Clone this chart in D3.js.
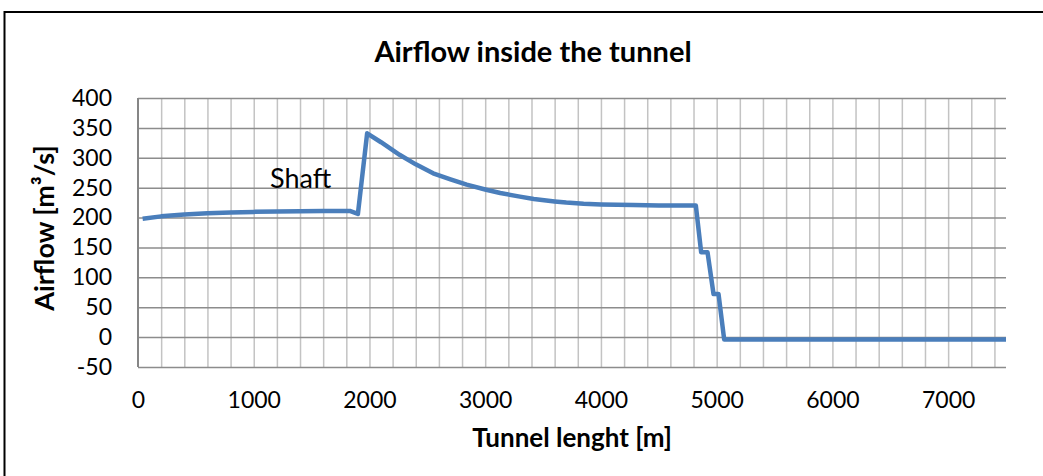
<!DOCTYPE html>
<head>
    <meta charset="utf-8">
    <script src="https://d3js.org/d3.v7.min.js"></script>
    <style>
      body { margin: 0; background: #fff; }
      text { font-family: Lato, "Open Sans", sans-serif; fill: #000; }
      .charttitle { font-size: 29px; font-weight: bold; }
      .axistitle { font-size: 27px; font-weight: bold; }
      .ticklabel text { font-size: 23px; }
      .note { font-size: 27px; }
    </style>
<body>
    <script>
        // tunnel position [m] and airflow [m3/s]
        var distance = [40, 200, 400, 600, 800, 1000, 1200, 1400, 1600, 1800, 1830, 1900, 1980, 2100, 2260, 2400, 2550, 2700, 2840, 3000, 3130, 3300, 3420, 3600, 3700, 3850, 4000, 4280, 4500, 4820, 4866, 4921, 4973, 5016, 5065, 7500]
        var airflow = [198, 202, 205, 207, 208.5, 209.5, 210, 210.5, 211, 211, 211, 206, 341, 326, 305, 289, 274, 264, 255, 247, 241, 235, 231, 227, 225, 223, 222, 221, 220, 220, 142, 142, 72, 72, -4, -4]
        var xTicks = [0, 1000, 2000, 3000, 4000, 5000, 6000, 7000]
        var yTicks = [-50, 0, 50, 100, 150, 200, 250, 300, 350, 400]
        var xMinorTicks = d3.range(200, 7500, 200)

        var svg_w = 1043, svg_h = 476
        var svg = d3.select("body").append("svg")
          .attr("width", svg_w)
          .attr("height", svg_h)

        // chart frame (cut off at right and bottom)
        svg.append("rect")
          .attr("x", 4.5).attr("y", 12)
          .attr("width", 1100).attr("height", 600)
          .attr("fill", "none")
          .attr("stroke", "#000")
          .attr("stroke-width", 2)

        var x = d3.scaleLinear().domain([0, 7500]).range([138, 1006])
        var y = d3.scaleLinear().domain([-50, 400]).range([367, 98])
        var plain = function(d) { return String(d) }

        // vertical minor gridlines
        var vGrid = svg.append("g")
          .attr("transform", "translate(0," + y(-50) + ")")
          .call(d3.axisTop(x).tickValues(xMinorTicks).tickFormat("").tickSize(y(-50) - y(400)))
        vGrid.select(".domain").remove()
        vGrid.selectAll("line").attr("stroke", "#c3c3c3").attr("stroke-width", 1.5)

        // horizontal gridlines
        var hGrid = svg.append("g")
          .attr("transform", "translate(" + x(0) + ",0)")
          .call(d3.axisRight(y).tickValues(yTicks).tickFormat("").tickSize(x(7500) - x(0)))
        hGrid.select(".domain").remove()
        hGrid.selectAll("line").attr("stroke", "#8c8c8c").attr("stroke-width", 1.5)

        // left axis line
        svg.append("line")
          .attr("x1", x(0)).attr("x2", x(0))
          .attr("y1", y(-50)).attr("y2", y(400))
          .attr("stroke", "#868686").attr("stroke-width", 2)

        var yAxis = svg.append("g")
          .classed("ticklabel", true)
          .attr("transform", "translate(" + (x(0) - 26) + ",0)")
          .call(d3.axisLeft(y).tickValues(yTicks).tickFormat(plain).tickSize(0).tickPadding(0))
        yAxis.select(".domain").remove()
        yAxis.selectAll("text").attr("font-family", null).attr("font-size", null)

        var xAxis = svg.append("g")
          .classed("ticklabel", true)
          .attr("transform", "translate(0," + (y(-50) + 25) + ")")
          .call(d3.axisBottom(x).tickValues(xTicks).tickFormat(plain).tickSize(0).tickPadding(0))
        xAxis.select(".domain").remove()
        xAxis.selectAll("text").attr("font-family", null).attr("font-size", null)

        var line = d3.line()
          .x(function(d, i) { return x(distance[i]) })
          .y(function(d) { return y(d) })

        svg.append("path")
          .datum(airflow)
          .attr("d", line)
          .attr("fill", "none")
          .attr("stroke", "#4a7ebb")
          .attr("stroke-width", 4.5)
          .attr("stroke-linejoin", "round")

        svg.append("text")
          .classed("note", true)
          .style("font-weight", "normal")
          .attr("x", 270).attr("y", 188)
          .text("Shaft")

        svg.append("text")
          .classed("charttitle", true)
          .attr("x", 533).attr("y", 62)
          .attr("text-anchor", "middle")
          .text("Airflow inside the tunnel")

        svg.append("text")
          .classed("axistitle", true)
          .style("font-size", "26px")
          .attr("x", 572).attr("y", 447)
          .attr("text-anchor", "middle")
          .text("Tunnel lenght [m]")

        svg.append("text")
          .classed("axistitle", true)
          .attr("transform", "translate(54," + 228 + ") rotate(-90)")
          .attr("text-anchor", "middle")
          .text("Airflow [m³/s]")
    </script>
</body>
